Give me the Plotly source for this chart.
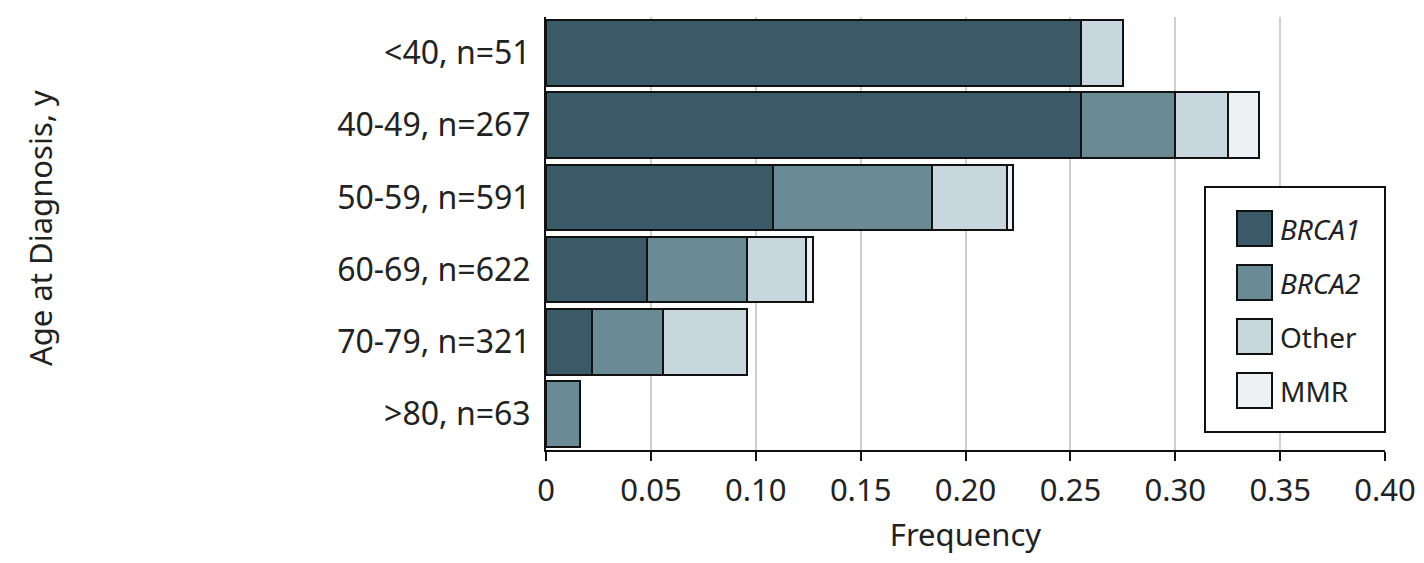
import plotly.graph_objects as go

categories = ["<40, n=51", "40-49, n=267", "50-59, n=591", "60-69, n=622", "70-79, n=321", ">80, n=63"]
brca1 = [0.255, 0.255, 0.108, 0.048, 0.022, None]
brca2 = [None, 0.045, 0.076, 0.048, 0.034, 0.016]
other = [0.020, 0.025, 0.036, 0.028, 0.040, None]
mmr = [None, 0.015, 0.0025, 0.0035, None, None]

series_names = ["BRCA1", "BRCA2", "Other", "MMR"]
series_labels = ["<i>BRCA1</i>", "<i>BRCA2</i>", "Other", "MMR"]
colors = ["#3b5967", "#6a8a95", "#c8d6de", "#eef1f3"]

tick_vals = [0, 0.05, 0.10, 0.15, 0.20, 0.25, 0.30, 0.35, 0.40]
tick_text = ["0", "0.05", "0.10", "0.15", "0.20", "0.25", "0.30", "0.35", "0.40"]

FONT = "Noto Sans"
OFF = 8  # page body margin
W, H = 1424 - 2 * OFF, 563 - 2 * OFF
# reference page-pixel geometry of plot area
PL, PR, PT, PB = 546, 1385, 17, 450
L, T = PL - OFF, PT - OFF
R = W - (PR - OFF)
B = H - (PB - OFF)

fig = go.Figure()
for name, vals, col in zip(series_names, [brca1, brca2, other, mmr], colors):
    fig.add_trace(go.Bar(
        y=categories, x=vals, name=name, orientation="h",
        marker=dict(color=col, line=dict(color="#111111", width=2)),
        showlegend=False,
    ))

fig.update_layout(
    barmode="stack",
    bargap=0.09,
    width=W, height=H,
    margin=dict(l=L, r=R, t=T, b=B, autoexpand=False),
    plot_bgcolor="white", paper_bgcolor="white",
    font=dict(family=FONT, size=32, color="#222222"),
)
fig.update_xaxes(
    range=[0, 0.40], tickvals=tick_vals, ticktext=tick_text,
    showgrid=True, gridcolor="#cfcfcf", gridwidth=2,
    showline=True, linecolor="#111111", linewidth=2,
    ticks="outside", ticklen=9, tickwidth=2, tickcolor="#111111",
    zeroline=False, ticklabelstandoff=3, ticklabeloverflow="allow",
    title=dict(text="Frequency", standoff=36, font=dict(size=31)),
    tickfont=dict(size=31),
)
fig.update_yaxes(
    autorange="reversed", showgrid=False,
    showline=True, linecolor="#111111", linewidth=2,
    ticks="", ticklabelstandoff=7, tickfont=dict(size=32),
)

pw = PR - PL
ph = PB - PT
def px_x(p):
    return (p - PL) / pw
def px_y(p):
    return (PB - p) / ph

fig.add_annotation(
    text="Age at Diagnosis, y", textangle=-90, xref="paper", yref="paper",
    x=px_x(40), y=px_y(228), xanchor="center", yanchor="middle", showarrow=False,
    font=dict(size=31, family=FONT, color="#222222"),
)

# legend drawn manually (large swatches)
fig.add_shape(type="rect", xref="paper", yref="paper",
              x0=px_x(1205), x1=px_x(1385), y0=px_y(432), y1=px_y(187),
              line=dict(color="#111111", width=2), fillcolor="white", layer="above")
sw_tops = [211, 265, 319, 373]
for lab, col, top in zip(series_labels, colors, sw_tops):
    fig.add_shape(type="rect", xref="paper", yref="paper",
                  x0=px_x(1237), x1=px_x(1272), y0=px_y(top + 35), y1=px_y(top),
                  line=dict(color="#111111", width=2), fillcolor=col, layer="above")
    fig.add_annotation(text=lab, xref="paper", yref="paper",
                       x=px_x(1278), y=px_y(top + 17.5), xanchor="left", yanchor="middle",
                       showarrow=False, font=dict(size=28, family=FONT, color="#222222"))

fig.write_html("out.html")
